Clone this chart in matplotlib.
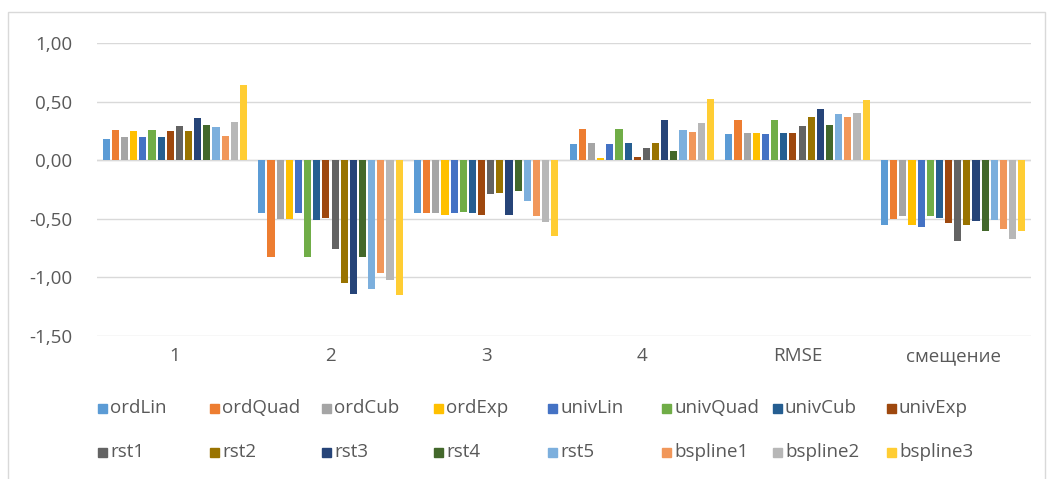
import matplotlib
matplotlib.use("Agg")
import matplotlib.pyplot as plt
from matplotlib.patches import Rectangle
import numpy as np

plt.rcParams['font.family'] = ['Open Sans', 'DejaVu Sans']

categories = ["1", "2", "3", "4", "RMSE", "смещение"]
series_names = ["ordLin", "ordQuad", "ordCub", "ordExp", "univLin", "univQuad", "univCub", "univExp",
                "rst1", "rst2", "rst3", "rst4", "rst5", "bspline1", "bspline2", "bspline3"]
colors = ["#5B9BD5", "#ED7D31", "#A5A5A5", "#FFC000", "#4472C4", "#70AD47", "#255E91", "#9E480E",
          "#636363", "#997300", "#264478", "#43682B", "#7CAFDD", "#F1975A", "#B7B7B7", "#FFCD33"]

ordLin   = [0.18, -0.45, -0.45, 0.14, 0.22, -0.55]
ordQuad  = [0.26, -0.83, -0.45, 0.27, 0.34, -0.50]
ordCub   = [0.20, -0.50, -0.45, 0.15, 0.23, -0.48]
ordExp   = [0.25, -0.50, -0.47, 0.02, 0.23, -0.55]
univLin  = [0.20, -0.45, -0.45, 0.14, 0.22, -0.57]
univQuad = [0.26, -0.83, -0.44, 0.27, 0.34, -0.48]
univCub  = [0.20, -0.51, -0.45, 0.15, 0.23, -0.49]
univExp  = [0.25, -0.49, -0.47, 0.03, 0.23, -0.54]
rst1     = [0.29, -0.76, -0.29, 0.10, 0.29, -0.69]
rst2     = [0.25, -1.05, -0.28, 0.15, 0.37, -0.55]
rst3     = [0.36, -1.14, -0.47, 0.34, 0.44, -0.52]
rst4     = [0.30, -0.83, -0.26, 0.08, 0.30, -0.60]
rst5     = [0.28, -1.10, -0.35, 0.26, 0.39, -0.51]
bspline1 = [0.21, -0.96, -0.48, 0.24, 0.37, -0.59]
bspline2 = [0.33, -1.02, -0.53, 0.32, 0.40, -0.67]
bspline3 = [0.64, -1.15, -0.65, 0.52, 0.51, -0.60]

values = [ordLin, ordQuad, ordCub, ordExp, univLin, univQuad, univCub, univExp,
          rst1, rst2, rst3, rst4, rst5, bspline1, bspline2, bspline3]

W, H = 1054, 479
fig = plt.figure(figsize=(W / 100, H / 100), dpi=100)
fig.patch.set_facecolor("white")

# chart border
fig.add_artist(Rectangle((8 / W, -0.01), (1045 - 8) / W, 1 - 12 / H + 0.01,
                         transform=fig.transFigure, fill=False, edgecolor="#D9D9D9", lw=1.0))

ax = fig.add_axes([97 / W, 1 - 336 / H, (1031 - 97) / W, (336 - 43) / H])
n = len(series_names)
x = np.arange(len(categories))
slot = 0.94 / n
bw = slot * 0.78
for i, (name, vals, c) in enumerate(zip(series_names, values, colors)):
    ax.bar(x - 0.47 + slot * (i + 0.5), vals, width=bw, color=c, label=name, zorder=3)

ax.set_xlim(-0.5, len(categories) - 0.5)
ax.set_ylim(-1.5, 1.0)
yt = np.arange(-1.5, 1.01, 0.5)
ax.set_yticks(yt)
ax.set_yticklabels([f"{v:.2f}".replace(".", ",") for v in yt])
ax.set_xticks(x)
ax.set_xticklabels(categories)
for s in ax.spines.values():
    s.set_visible(False)
ax.grid(axis="y", color="#D9D9D9", lw=1.0, zorder=0)
ax.axhline(0, color="#D9D9D9", lw=1.0, zorder=1)
ax.tick_params(axis="both", length=0, colors="#595959", labelsize=13.5)
ax.tick_params(axis="y", pad=18)
ax.tick_params(axis="x", pad=8)

# legend (Excel style, equal column widths)
col_x = [98, 210, 322, 434, 548, 662, 773, 887]
row_y = [408, 452]
for i, (name, c) in enumerate(zip(series_names, colors)):
    cx = col_x[i % 8]
    cy = row_y[i // 8]
    fig.add_artist(Rectangle((cx / W, 1 - (cy + 4.5) / H), 9 / W, 9 / H,
                             transform=fig.transFigure, color=c))
    fig.text((cx + 12) / W, 1 - cy / H, name, ha="left", va="center",
             fontsize=13.5, color="#595959")

fig.savefig("out.png", dpi=100, facecolor="white")
